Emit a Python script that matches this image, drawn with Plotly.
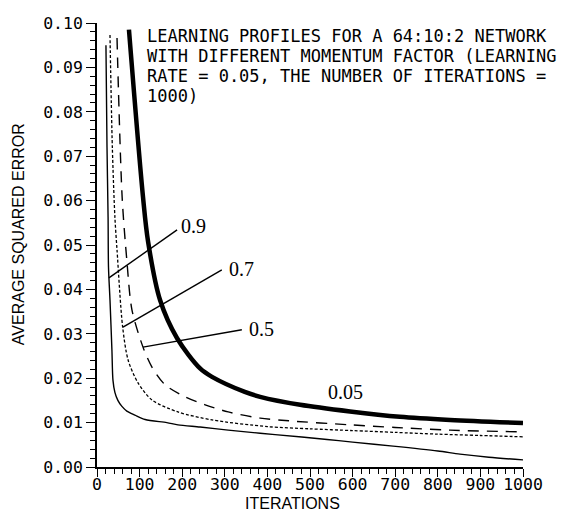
import plotly.graph_objects as go

# ---- data ----
iter_09 = [21, 23.5, 26, 27, 30.5, 35, 37.5, 42, 49, 58, 70, 89, 113, 164, 190, 242, 308, 383, 418, 540, 600, 695, 800, 852, 920, 1000]
err_09 = [0.095, 0.072, 0.0563, 0.045, 0.0376, 0.0264, 0.0195, 0.0168, 0.0150, 0.0137, 0.0126, 0.0117, 0.0107, 0.0100, 0.0095, 0.0090, 0.0083, 0.0076, 0.0073, 0.0062, 0.0056, 0.0047, 0.0036, 0.0029, 0.0022, 0.0016]

iter_07 = [30.5, 36, 42, 47, 60, 73, 96, 129, 190, 270, 400, 500, 600, 700, 800, 900, 1000]
err_07 = [0.0973, 0.072, 0.0563, 0.0489, 0.0317, 0.0241, 0.019, 0.0151, 0.0124, 0.0106, 0.0091, 0.0086, 0.0082, 0.0078, 0.0074, 0.0071, 0.0068]

iter_05 = [47, 59, 70, 82, 108, 129, 160, 207, 254, 308, 383, 450, 594, 700, 829, 1000]
err_05 = [0.0966, 0.0608, 0.0466, 0.0354, 0.027, 0.0225, 0.0185, 0.0158, 0.014, 0.0124, 0.011, 0.0104, 0.0095, 0.0089, 0.0083, 0.0079]

iter_005 = [75, 108, 120, 148, 188, 242, 270, 347, 383, 477, 594, 711, 829, 1000]
err_005 = [0.0985, 0.0608, 0.0507, 0.0376, 0.0290, 0.0222, 0.0203, 0.0169, 0.0158, 0.0140, 0.0125, 0.0113, 0.0106, 0.0099]

x_ticks = [0, 100, 200, 300, 400, 500, 600, 700, 800, 900, 1000]
y_ticks = [0.00, 0.01, 0.02, 0.03, 0.04, 0.05, 0.06, 0.07, 0.08, 0.09, 0.10]

title_lines = [
    "LEARNING PROFILES FOR A 64:10:2 NETWORK",
    "WITH DIFFERENT MOMENTUM FACTOR (LEARNING",
    "RATE = 0.05, THE NUMBER OF ITERATIONS =",
    "1000)",
]

# pointer labels: (label, curve point iter, curve point err, line-end iter, line-end err, label iter, label err)
pointers = [
    ("0.9", 28, 0.0426, 188, 0.0534, 193, 0.0543),
    ("0.7", 61, 0.0315, 293, 0.0444, 305, 0.0447),
    ("0.5", 108, 0.0270, 340, 0.0309, 352, 0.0311),
]
label_005 = ("0.05", 584, 0.0169)

# ---- figure ----
PX_L, PX_R, PX_T, PX_B = 97, 523, 22.7, 467
W, H = 575, 512


def paper_x(px):
    return (px - PX_L) / (PX_R - PX_L)


def paper_y(py):
    return (PX_B - py) / (PX_B - PX_T)


fig = go.Figure()
common = dict(mode="lines", showlegend=False, hoverinfo="skip")
fig.add_trace(go.Scatter(x=iter_09, y=err_09, line=dict(color="black", width=1.4, shape="spline", smoothing=0.8), **common))
fig.add_trace(go.Scatter(x=iter_07, y=err_07, line=dict(color="black", width=1.3, dash="3px,2px", shape="spline", smoothing=0.8), **common))
fig.add_trace(go.Scatter(x=iter_05, y=err_05, line=dict(color="black", width=1.4, dash="11px,8px", shape="spline", smoothing=0.8), **common))
fig.add_trace(go.Scatter(x=iter_005, y=err_005, line=dict(color="black", width=4.5, shape="spline", smoothing=0.9), **common))

for lab, x0, y0, x1, y1, xl, yl in pointers:
    fig.add_shape(type="line", x0=x0, y0=y0, x1=x1, y1=y1, xref="x", yref="y",
                  line=dict(color="black", width=1.4))
    fig.add_annotation(x=xl, y=yl, xref="x", yref="y", text=lab, showarrow=False,
                       xanchor="left", yanchor="middle",
                       font=dict(family="Liberation Serif", size=20, color="black"))

fig.add_annotation(x=label_005[1], y=label_005[2], xref="x", yref="y", text=label_005[0],
                   showarrow=False, xanchor="center", yanchor="middle",
                   font=dict(family="Liberation Serif", size=20, color="black"))

title_y = [36, 56, 76, 96]
for line, py in zip(title_lines, title_y):
    fig.add_annotation(x=paper_x(145), y=paper_y(py), xref="paper", yref="paper", text=line,
                       showarrow=False, xanchor="left", yanchor="middle",
                       font=dict(family="DejaVu Sans Mono", size=17, color="black"))

fig.add_annotation(x=paper_x(292), y=paper_y(504), xref="paper", yref="paper", text="ITERATIONS",
                   showarrow=False, xanchor="center", yanchor="middle",
                   font=dict(family="Liberation Sans", size=16, color="black"))
fig.add_annotation(x=paper_x(18), y=paper_y(234), xref="paper", yref="paper", text="AVERAGE SQUARED ERROR",
                   showarrow=False, xanchor="center", yanchor="middle", textangle=-90,
                   font=dict(family="Liberation Sans", size=16, color="black"))

tick_font = dict(family="DejaVu Sans Mono", size=16.5, color="black")
fig.update_xaxes(range=[0, 1000], tickvals=x_ticks, ticktext=[str(v) for v in x_ticks],
                 showline=True, linecolor="black", linewidth=1.5, ticks="outside", ticklen=8,
                 tickwidth=1.4, tickcolor="black", showgrid=False, zeroline=False, tickfont=tick_font,
                 ticklabelstandoff=-7,
                 minor=dict(dtick=20, ticks="outside", ticklen=5, tickwidth=1.2, tickcolor="black", showgrid=False))
fig.update_yaxes(range=[0, 0.1], tickvals=y_ticks, ticktext=[f"{v:.2f}" for v in y_ticks],
                 showline=True, linecolor="black", linewidth=1.5, ticks="outside", ticklen=9,
                 tickwidth=1.4, tickcolor="black", showgrid=False, zeroline=False, tickfont=tick_font,
                 minor=dict(dtick=0.002, ticks="outside", ticklen=5, tickwidth=1.2, tickcolor="black", showgrid=False))

fig.update_layout(width=W, height=H, margin=dict(l=PX_L, r=W - PX_R, t=PX_T, b=H - PX_B),
                  plot_bgcolor="white", paper_bgcolor="white", showlegend=False)

fig.write_html("out.html")
